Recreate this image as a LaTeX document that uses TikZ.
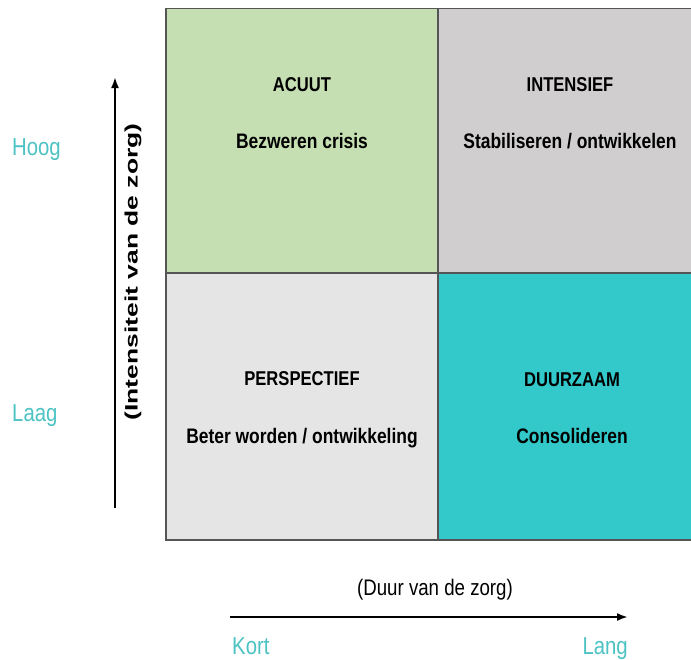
\documentclass[tikz,border=0pt]{standalone}
\usepackage{fontspec}
\setmainfont{Liberation Sans}[FakeStretch=0.83]
\newfontfamily\widefont{Liberation Sans}[FakeStretch=1.47]
\usetikzlibrary{arrows.meta}
\definecolor{acuutgroen}{HTML}{C5DFB3}
\definecolor{intensiefgrijs}{HTML}{D0CECF}
\definecolor{perspectiefgrijs}{HTML}{E6E5E6}
\definecolor{duurzaamblauw}{HTML}{33C9CA}
\definecolor{poolkleur}{HTML}{4CC2C3}
\definecolor{randkleur}{HTML}{555555}
\begin{document}
\begin{tikzpicture}[x=1pt,y=-1pt,inner sep=0pt,
    titel/.style={anchor=base,font=\bfseries\fontsize{20}{20}\selectfont},
    taak/.style={anchor=base,font=\bfseries\fontsize{21}{21}\selectfont},
    pool/.style={text=poolkleur,font=\fontsize{24.5}{24.5}\selectfont},
    as/.style={line width=2pt,-{Latex[length=11pt,width=8pt]}}]
    \useasboundingbox (0,0) rectangle (691,659);
    \fill[acuutgroen] (166,8.5) rectangle (438,273);
    \fill[intensiefgrijs] (438,8.5) rectangle (702,273);
    \fill[perspectiefgrijs] (166,273) rectangle (438,540);
    \fill[duurzaamblauw] (438,273) rectangle (702,540);
    \draw[randkleur,line width=1.5pt] (166,8.5) rectangle (702,540);
    \draw[randkleur,line width=1.2pt] (438,8.5) -- (438,540);
    \draw[randkleur,line width=1.2pt] (166,273) -- (702,273);
    \node[titel] (acuut) at (302,91) {ACUUT};
    \node[taak] (bezweren) at (302,148) {Bezweren crisis};
    \node[titel] (intensief) at (570,91) {INTENSIEF};
    \node[taak] (stabiliseren) at (570,148) {Stabiliseren / ontwikkelen};
    \node[titel] (perspectief) at (302,385) {PERSPECTIEF};
    \node[taak] (beter) at (302,443) {Beter worden / ontwikkeling};
    \node[titel] (duurzaam) at (572,386) {DUURZAAM};
    \node[taak] (consolideren) at (572,443) {Consolideren};
    \coordinate (laag) at (115,508);
    \coordinate (hoog) at (115,77);
    \draw[as] (laag) -- (hoog);
    \node[rotate=90,font=\widefont\bfseries\fontsize{18}{18}\selectfont] (intensiteit) at (133,272) {(Intensiteit van de zorg)};
    \node[pool,anchor=base west] (hoogtekst) at (12,155) {Hoog};
    \node[pool,anchor=base west] (laagtekst) at (12,421) {Laag};
    \coordinate (kort) at (230,617);
    \coordinate (lang) at (628,617);
    \draw[as] (kort) -- (lang);
    \node[anchor=base,font=\fontsize{22.5}{22.5}\selectfont] (duur) at (435,595) {(Duur van de zorg)};
    \node[pool,anchor=base west] (korttekst) at (232,654) {Kort};
    \node[pool,anchor=base east] (langtekst) at (628,654) {Lang};
\end{tikzpicture}
\end{document}
